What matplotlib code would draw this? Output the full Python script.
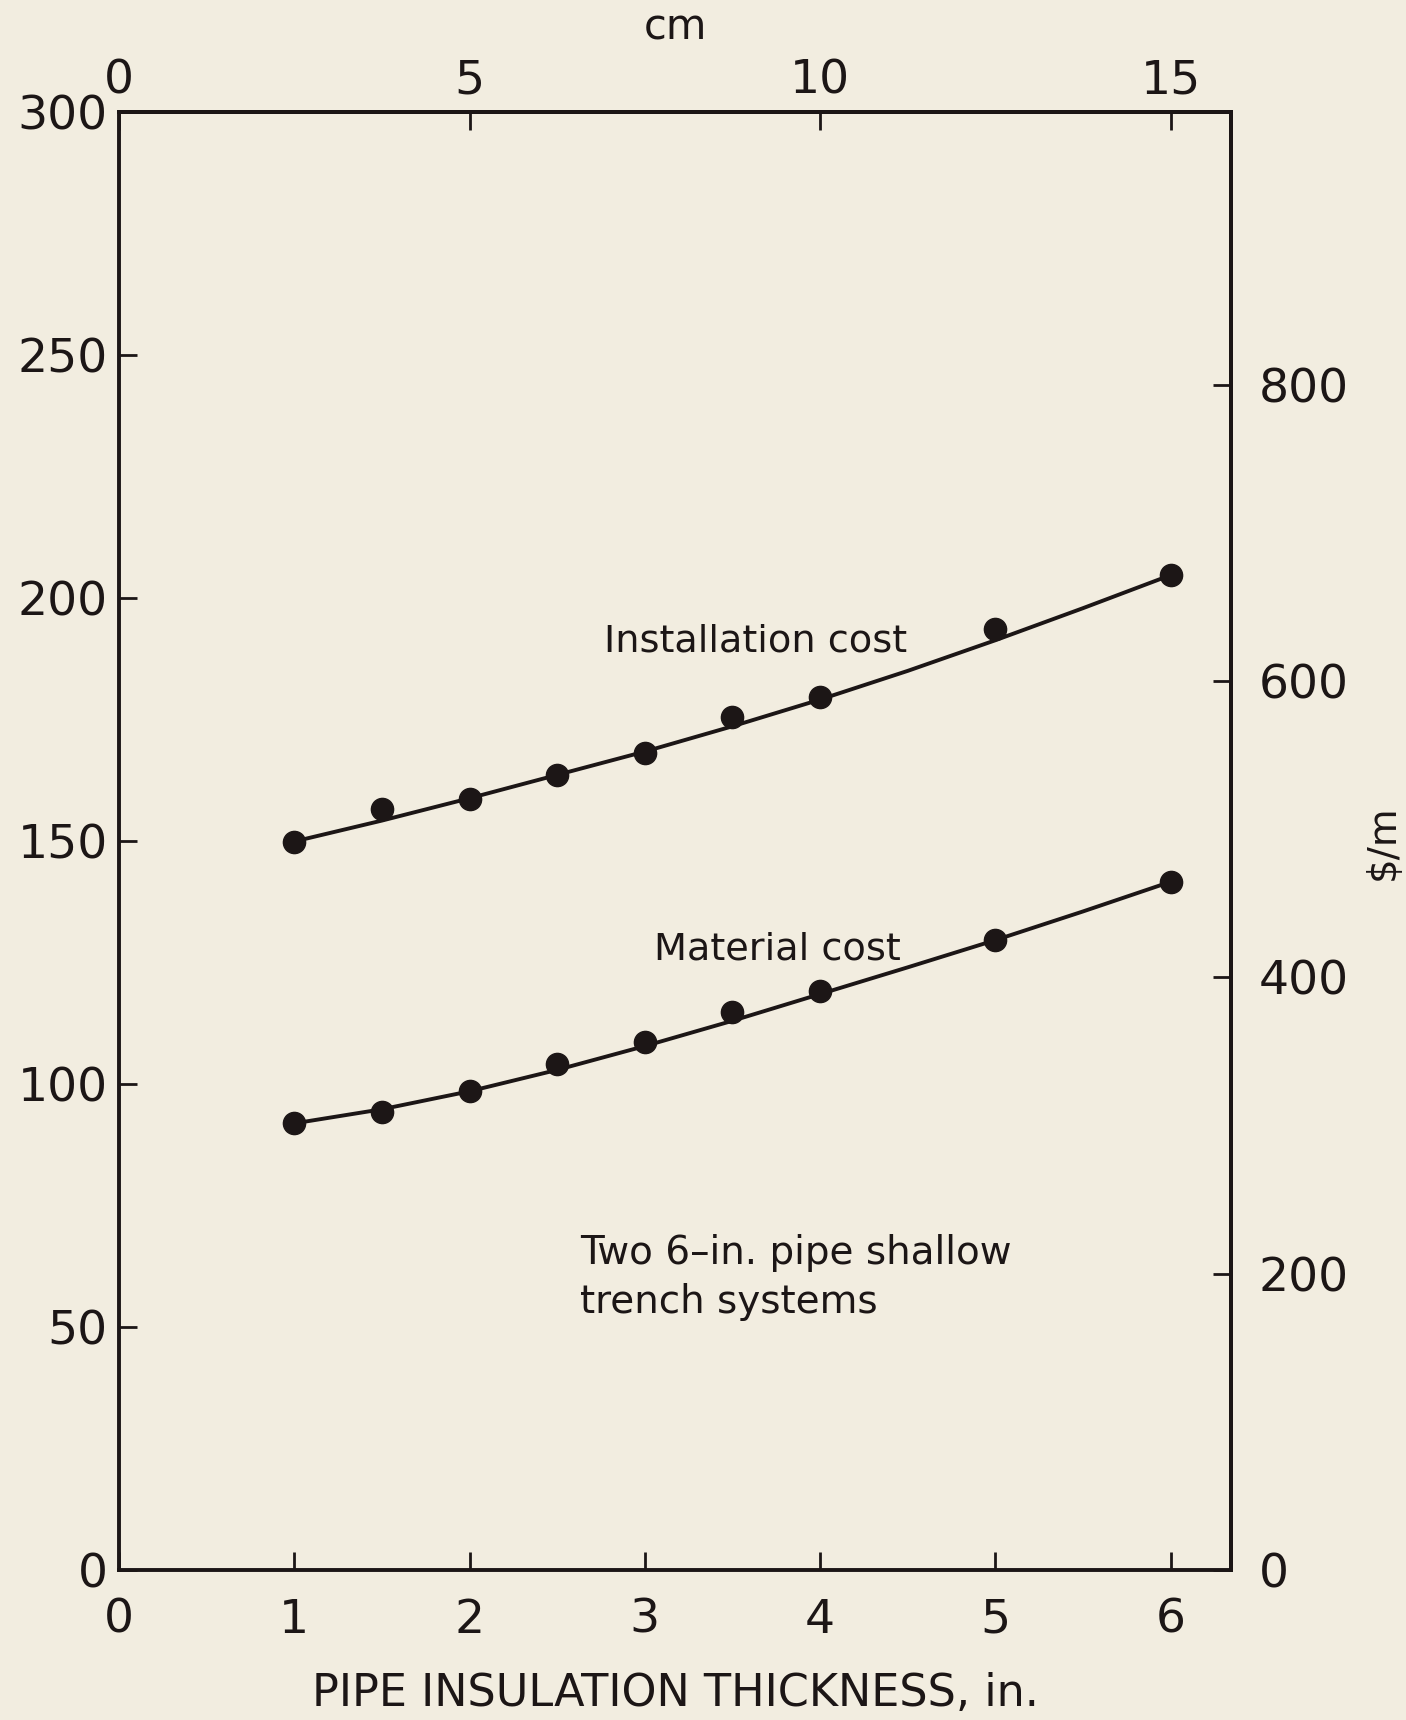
import matplotlib
matplotlib.use("Agg")
import matplotlib.pyplot as plt

plt.rcParams['font.family'] = ['DejaVu Sans']

# ---- data ----
thickness_in = [1.0, 1.5, 2.0, 2.5, 3.0, 3.5, 4.0, 5.0, 6.0]
install_cost = [149.8, 156.5, 158.7, 163.5, 168.1, 175.5, 179.6, 193.6, 204.7]
material_cost = [91.9, 94.3, 98.6, 104.1, 108.7, 114.9, 119.2, 129.6, 141.6]

curve_x = [1.0, 1.5, 2.0, 2.5, 3.0, 3.5, 4.0, 4.5, 5.0, 5.5, 6.0]
install_curve = [149.9, 154.2, 158.8, 163.6, 168.4, 173.6, 179.1, 185.0, 191.3, 197.9, 204.7]
material_curve = [91.9, 94.8, 98.5, 102.9, 107.8, 113.0, 118.5, 124.0, 129.6, 135.5, 141.6]

x_ticks_in = [0, 1, 2, 3, 4, 5, 6]
x_ticks_cm = [0, 5, 10, 15]
y_ticks_ft = [0, 50, 100, 150, 200, 250, 300]
y_ticks_m = [0, 200, 400, 600, 800]

labels = {
    'install': "Installation cost",
    'material': "Material cost",
    'note': "Two 6\u2013in. pipe shallow\ntrench systems",
    'xlabel': "PIPE INSULATION THICKNESS, in.",
    'top': "cm",
    'right': "$/m",
}

BG = '#f2ede0'
INK = '#1c1616'
CM_PER_IN = 2.5   # scale as drawn on the original figure
M_PER_FT = 3.2808

fig = plt.figure(figsize=(14.06, 17.2), dpi=100, facecolor=BG)
ax = fig.add_axes([119/1406, 1 - 1570/1720, (1231-119)/1406, (1570-112)/1720])
ax.set_facecolor(BG)

ax.plot(curve_x, install_curve, color=INK, lw=2.8, solid_capstyle='round')
ax.plot(curve_x, material_curve, color=INK, lw=2.8, solid_capstyle='round')
ax.plot(thickness_in, install_cost, 'o', color=INK, ms=16, mec=INK)
ax.plot(thickness_in, material_cost, 'o', color=INK, ms=16, mec=INK)

ax.set_xlim(0, 6.345)
ax.set_ylim(0, 300)

for s in ax.spines.values():
    s.set_linewidth(2.8)
    s.set_color(INK)

ax.set_xticks(x_ticks_in)
ax.set_yticks(y_ticks_ft)
ax.tick_params(axis='both', direction='in', length=13, width=2, colors=INK,
               labelsize=34, labelcolor=INK)
ax.tick_params(axis='x', pad=20)
ax.tick_params(axis='y', pad=8)

ax.set_xlabel(labels['xlabel'], fontsize=32, color=INK)
ax.xaxis.set_label_coords(0.5, -0.085)
ax.xaxis.label.set_va('center')

# top cm axis
top = ax.secondary_xaxis('top', functions=(lambda x: x * CM_PER_IN, lambda c: c / CM_PER_IN))
top.set_xticks(x_ticks_cm)
top.tick_params(direction='in', length=13, width=2, colors=INK, labelsize=34,
                labelcolor=INK, pad=6)
top.spines['top'].set_linewidth(2.8)
top.set_xlabel(labels['top'], fontsize=30, color=INK, labelpad=14)

# right $/m axis
right = ax.secondary_yaxis('right', functions=(lambda y: y * M_PER_FT, lambda m: m / M_PER_FT))
right.set_yticks(y_ticks_m)
right.tick_params(direction='in', length=13, width=2, colors=INK, labelsize=34,
                  labelcolor=INK, pad=20)
right.spines['right'].set_linewidth(2.8)
fig.text(1383/1406, 1 - 842/1720, labels['right'], fontsize=28, color=INK,
         rotation=90, ha='center', va='center')

ax.text(2.77, 189.0, labels['install'], fontsize=27.5, color=INK, va='baseline', ha='left')
ax.text(3.05, 125.7, labels['material'], fontsize=27.5, color=INK, va='baseline', ha='left')
ax.text(2.63, 52.9, labels['note'], fontsize=28, color=INK, va='baseline', ha='left',
        linespacing=1.38)

fig.savefig('out.png', dpi=100, facecolor=BG)
